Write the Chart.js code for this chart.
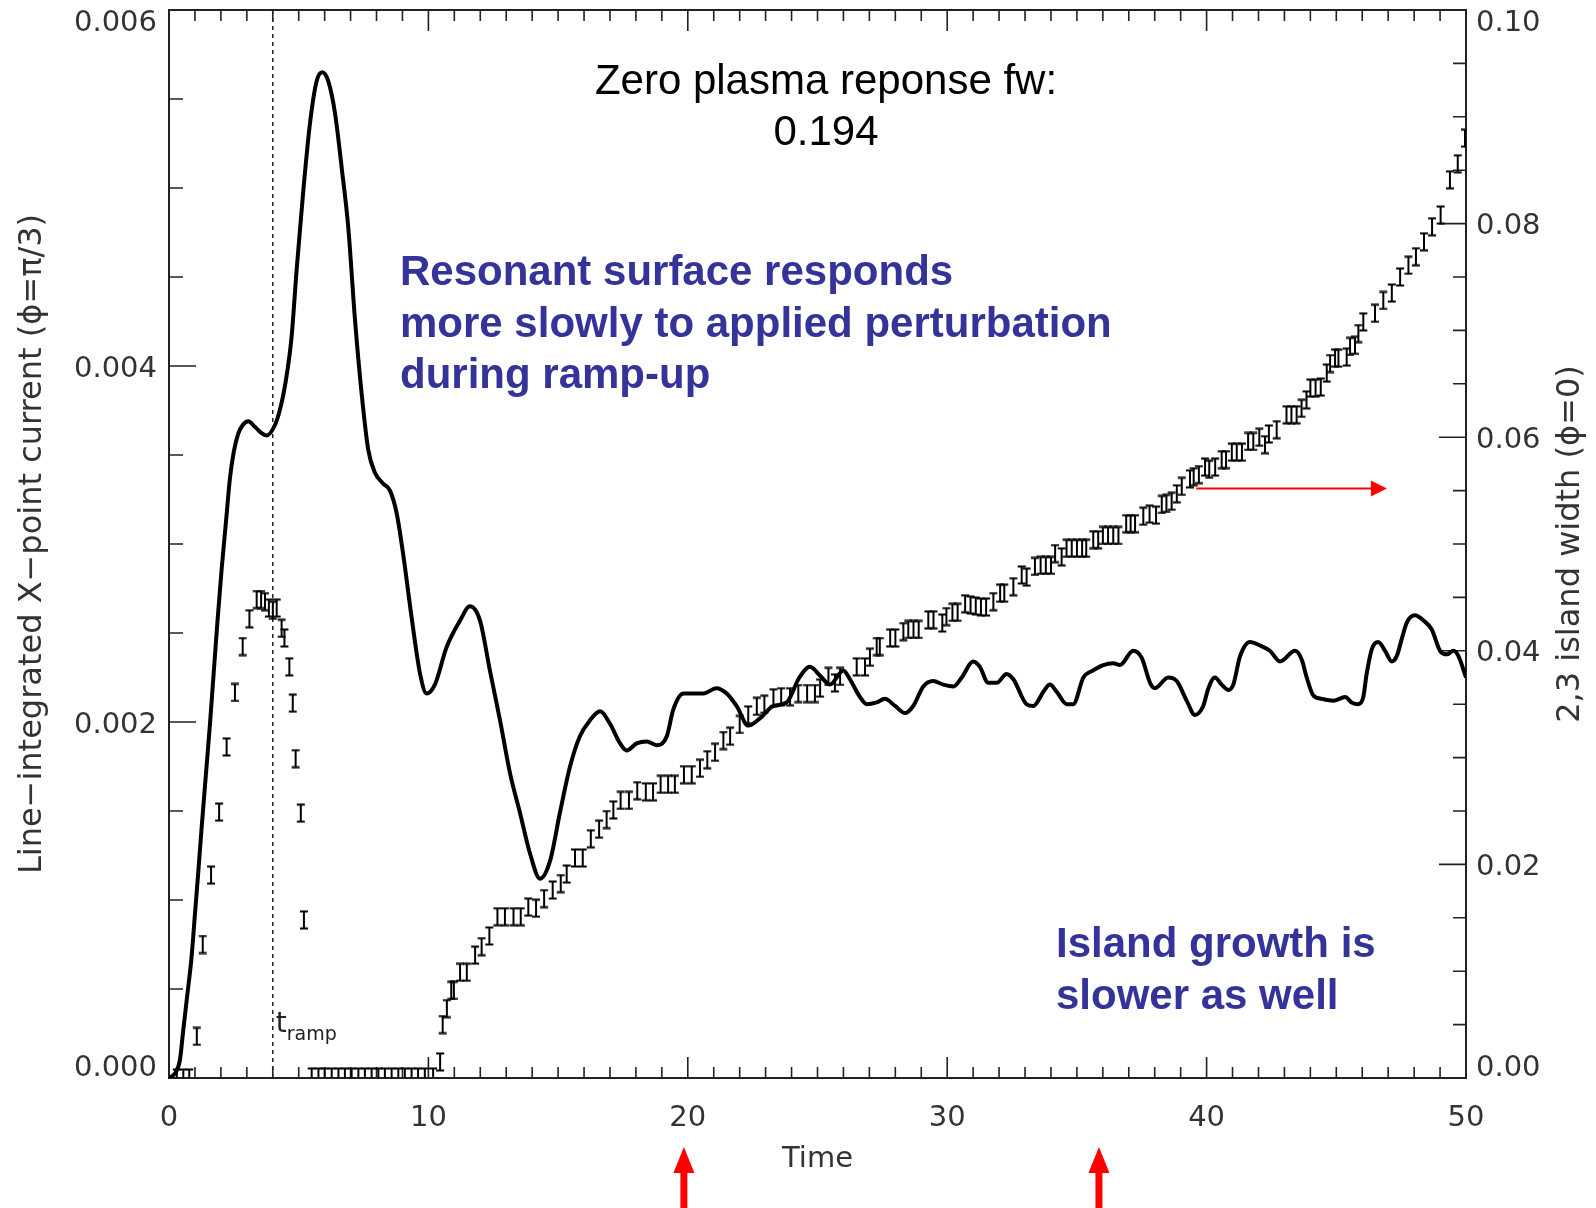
<!doctype html>
<html>
<head>
    <meta charset="UTF-8"/>
    <meta name="viewport" content="width=device-width,initial-scale=1.0"/>
    <title>X-point current and island width</title>
    <style type="text/css">
        body {
            margin: 0;
            padding: 0;
            background-color: #fff;
        }
        .chartBox {
            width: 1596px;
            height: 1208px;
        }
    </style>
</head>
<body>
    <div class="chartBox">
        <canvas id="myChart" width="1596" height="1208"></canvas>
    </div>

    <script src="https://cdn.jsdelivr.net/npm/chart.js"></script>

    <script>
        // Line-integrated X-point current, left axis
        const curveTime = [
            0, 0.25, 0.42, 0.55, 0.7, 0.87, 1.0, 1.13, 1.26, 1.42,
            1.58, 1.72, 1.86, 2.03, 2.2, 2.35, 2.5, 2.67, 2.85, 3.06,
            3.3, 3.51, 3.77, 4.09, 4.25, 4.41, 4.57, 4.73, 4.92, 5.18,
            5.44, 5.69, 5.91, 6.14, 6.40, 6.66, 6.91, 7.17, 7.43, 7.68,
            7.94, 8.25, 8.52, 8.78, 9.03, 9.36, 9.68, 9.93, 10.25, 10.7,
            11.22, 11.6, 11.99, 12.37, 12.76, 13.15, 13.53, 13.92, 14.30, 14.69,
            15.07, 15.46, 15.84, 16.23, 16.62, 17.0, 17.39, 17.64, 18.03, 18.42,
            18.8, 19.19, 19.44, 19.83, 20.21, 20.6, 21.1, 21.5, 21.88, 22.33,
            22.78, 23.3, 23.81, 24.3, 24.71, 25.1, 25.48, 26.0, 26.25, 26.64,
            26.9, 27.28, 27.6, 27.99, 28.37, 28.69, 29.08, 29.46, 29.85, 30.24,
            30.56, 31.0, 31.26, 31.58, 31.91, 32.29, 32.55, 33.06, 33.32, 33.71,
            33.96, 34.22, 34.61, 34.86, 35.25, 35.63, 36.02, 36.4, 36.66, 37.17,
            37.5, 37.82, 38.01, 38.52, 38.85, 39.23, 39.55, 39.87, 40.07, 40.32,
            40.58, 40.84, 41.03, 41.29, 41.67, 42.06, 42.44, 42.83, 43.41, 43.67,
            43.86, 44.11, 44.44, 44.89, 45.34, 45.59, 45.85, 46.04, 46.17, 46.37,
            46.62, 46.88, 47.14, 47.33, 47.53, 47.72, 48.04, 48.36, 48.68, 49.0,
            49.26, 49.52, 49.71, 50.0
        ];
        const curveCurrent = [
            0, 0.00003, 0.00010, 0.00027, 0.00046, 0.00068, 0.00092, 0.00116, 0.00141, 0.00170,
            0.00199, 0.00227, 0.00255, 0.00286, 0.00313, 0.00337, 0.00352, 0.00362, 0.00367, 0.00369,
            0.00366, 0.00363, 0.00361, 0.00367, 0.00374, 0.00384, 0.00398, 0.00417, 0.00454, 0.00499,
            0.00537, 0.00560, 0.00565, 0.00560, 0.00542, 0.00511, 0.00478, 0.00426, 0.00384, 0.00353,
            0.00340, 0.00334, 0.00330, 0.00317, 0.00294, 0.00258, 0.00227, 0.00216, 0.00221, 0.00242,
            0.00257, 0.00265, 0.00257, 0.00229, 0.00201, 0.00171, 0.00149, 0.00126, 0.00112, 0.00122,
            0.00149, 0.00175, 0.00192, 0.00201, 0.00206, 0.00199, 0.00188, 0.00184, 0.00188, 0.00189,
            0.00187, 0.00192, 0.00207, 0.00216, 0.00216, 0.00216, 0.00219, 0.00216, 0.00209, 0.00198,
            0.00202, 0.00209, 0.00211, 0.00225, 0.00231, 0.00226, 0.00221, 0.00229, 0.00224, 0.00214,
            0.00210, 0.00211, 0.00213, 0.00209, 0.00205, 0.00209, 0.00220, 0.00223, 0.00221, 0.00220,
            0.00225, 0.00234, 0.00231, 0.00222, 0.00222, 0.00227, 0.00224, 0.00210, 0.00209, 0.00217,
            0.00221, 0.00217, 0.00210, 0.00210, 0.00225, 0.00229, 0.00232, 0.00233, 0.00232, 0.00240,
            0.00236, 0.00222, 0.00219, 0.00225, 0.00223, 0.00212, 0.00204, 0.00209, 0.00219, 0.00225,
            0.00221, 0.00218, 0.00221, 0.00237, 0.00245, 0.00243, 0.00240, 0.00234, 0.00240, 0.00235,
            0.00225, 0.00215, 0.00213, 0.00212, 0.00214, 0.00211, 0.00210, 0.00214, 0.00227, 0.00241,
            0.00245, 0.00240, 0.00234, 0.00237, 0.00247, 0.00256, 0.00260, 0.00257, 0.00252, 0.00240,
            0.00238, 0.00240, 0.00237, 0.00225
        ];

        // 2,3 island width, right axis (one error-bar glyph per sample)
        const islandTime = [
            0.30, 0.55, 0.78, 1.07, 1.30, 1.62, 1.93, 2.22, 2.54, 2.84,
            3.10, 3.38, 3.55, 3.70, 3.85, 4.00, 4.15, 4.34, 4.45, 4.64,
            4.77, 4.88, 5.08, 5.20, 5.50, 5.76, 6.00, 6.27, 6.53, 6.78,
            7.04, 7.30, 7.55, 7.81, 8.07, 8.32, 8.58, 8.84, 9.09, 9.35,
            9.60, 9.86, 10.18, 10.45, 10.55, 10.71, 10.88, 10.98, 11.22, 11.48,
            11.80, 12.05, 12.35, 12.66, 12.95, 13.28, 13.56, 13.85, 14.15, 14.46,
            14.79, 15.10, 15.33, 15.65, 15.95, 16.26, 16.58, 16.87, 17.13, 17.41,
            17.73, 18.05, 18.38, 18.66, 18.95, 19.24, 19.50, 19.85, 20.15, 20.47,
            20.75, 21.05, 21.37, 21.63, 22.00, 22.33, 22.66, 22.95, 23.30, 23.60,
            23.94, 24.26, 24.60, 24.90, 25.10, 25.42, 25.67, 25.87, 26.51, 26.83,
            27.02, 27.28, 27.40, 27.80, 28.00, 28.31, 28.50, 28.70, 28.90, 29.27,
            29.47, 29.81, 29.97, 30.20, 30.40, 30.69, 30.90, 31.10, 31.30, 31.50,
            31.78, 32.04, 32.20, 32.55, 32.87, 33.06, 33.38, 33.60, 33.80, 34.00,
            34.16, 34.41, 34.60, 34.80, 35.00, 35.20, 35.36, 35.63, 35.82, 36.00,
            36.20, 36.40, 36.60, 36.90, 37.07, 37.24, 37.56, 37.80, 38.05, 38.27,
            38.45, 38.65, 38.85, 39.04, 39.36, 39.50, 39.70, 39.94, 40.10, 40.33,
            40.58, 40.75, 40.97, 41.16, 41.36, 41.60, 41.80, 42.03, 42.25, 42.40,
            42.70, 43.08, 43.27, 43.47, 43.66, 43.85, 44.00, 44.20, 44.40, 44.63,
            44.76, 44.95, 45.08, 45.40, 45.53, 45.72, 45.85, 46.04, 46.49, 46.81,
            47.14, 47.46, 47.78, 48.07, 48.38, 48.69, 49.02, 49.38, 49.68, 49.96
        ];
        const islandWidth = [
            0, 0, 0, 0.0039, 0.0125, 0.0190, 0.0249, 0.0310, 0.0361, 0.0404,
            0.0430, 0.0448, 0.0448, 0.0446, 0.0440, 0.0438, 0.0440, 0.0421, 0.0412, 0.0385,
            0.0351, 0.0299, 0.0248, 0.0148, 0.0001, 0.0001, 0.0001, 0.0001, 0.0001, 0.0001,
            0.0001, 0.0001, 0.0001, 0.0001, 0.0001, 0.0001, 0.0001, 0.0001, 0.0001, 0.0001,
            0.0001, 0.0001, 0.0001, 0.0015, 0.0050, 0.0065, 0.0082, 0.0082, 0.0099, 0.0099,
            0.0115, 0.0123, 0.0133, 0.0151, 0.0151, 0.0151, 0.0151, 0.0160, 0.0159, 0.0168,
            0.0176, 0.0182, 0.0191, 0.0206, 0.0206, 0.0224, 0.0233, 0.0242, 0.0251, 0.0260,
            0.0260, 0.0269, 0.0268, 0.0268, 0.0275, 0.0275, 0.0275, 0.0284, 0.0284, 0.0290,
            0.0298, 0.0305, 0.0316, 0.0320, 0.0331, 0.0340, 0.0348, 0.0350, 0.0356, 0.0357,
            0.0357, 0.0360, 0.0360, 0.0360, 0.0365, 0.0376, 0.0370, 0.0376, 0.0385, 0.0385,
            0.0394, 0.0404, 0.0404, 0.0412, 0.0412, 0.0418, 0.0420, 0.0420, 0.0420, 0.0429,
            0.0429, 0.0426, 0.0432, 0.0436, 0.0436, 0.0444, 0.0443, 0.0442, 0.0441, 0.0441,
            0.0446, 0.0454, 0.0454, 0.0460, 0.0471, 0.0469, 0.0479, 0.0480, 0.0480, 0.0480,
            0.0491, 0.0488, 0.0496, 0.0496, 0.0496, 0.0496, 0.0496, 0.0504, 0.0504, 0.0508,
            0.0508, 0.0508, 0.0508, 0.0519, 0.0519, 0.0519, 0.0526, 0.0528, 0.0527, 0.0537,
            0.0538, 0.0540, 0.0547, 0.0554, 0.0561, 0.0563, 0.0565, 0.0572, 0.0570, 0.0572,
            0.0579, 0.0579, 0.0586, 0.0586, 0.0586, 0.0596, 0.0596, 0.0600, 0.0593, 0.0603,
            0.0607, 0.0621, 0.0621, 0.0621, 0.0627, 0.0635, 0.0646, 0.0646, 0.0647, 0.0660,
            0.0669, 0.0674, 0.0674, 0.0675, 0.0685, 0.0686, 0.0697, 0.0708, 0.0716, 0.0728,
            0.0735, 0.0750, 0.0761, 0.0769, 0.0783, 0.0797, 0.0808, 0.0841, 0.0856, 0.0880
        ];

        // Tick labels
        const xTickValues = [0, 10, 20, 30, 40, 50];
        const leftTickValues = [0, 0.002, 0.004, 0.006];
        const rightTickValues = [0, 0.02, 0.04, 0.06, 0.08, 0.10];

        // Annotation values
        const rampTime = 4;
        const markerTimes = [19.85, 35.85];
        const pointerArrow = { from: 39.6, to: 46.95, width: 0.0552 };

        const headerLines = ['Zero plasma reponse fw:', '0.194'];
        const noteLines = ['Resonant surface responds', 'more slowly to applied perturbation', 'during ramp-up'];
        const growthLines = ['Island growth is', 'slower as well'];
        const leftTitle = 'Line\u2212integrated X\u2212point current (\u03d5=\u03c0/3)';
        const rightTitle = '2,3 island width (\u03d5=0)';

        const axisFont = '"DejaVu Sans", sans-serif';
        const axisColor = '#333';

        // I-shaped error bar glyph used as the point style
        function makeBarGlyph() {
            const c = document.createElement('canvas');
            c.width = 10;
            c.height = 20;
            const g = c.getContext('2d');
            g.strokeStyle = '#000';
            g.lineWidth = 2;
            g.beginPath();
            g.moveTo(5, 1);
            g.lineTo(5, 19);
            g.moveTo(1, 1.5);
            g.lineTo(9, 1.5);
            g.moveTo(1, 18.5);
            g.lineTo(9, 18.5);
            g.stroke();
            return c;
        }

        // Frame, inward ticks, tick labels and the ramp marker
        const frameAndTicks = {
            id: 'frameAndTicks',
            beforeDatasetsDraw(chart) {
                const { ctx, chartArea: a, scales: { x, y, y2 } } = chart;
                ctx.save();
                ctx.strokeStyle = '#222';
                ctx.lineWidth = 1.6;
                ctx.beginPath();
                for (let i = 0; i <= 50; i++) {
                    const px = x.getPixelForValue(i);
                    const len = i % 10 === 0 ? 21 : 11;
                    ctx.moveTo(px, a.bottom);
                    ctx.lineTo(px, a.bottom - len);
                    ctx.moveTo(px, a.top);
                    ctx.lineTo(px, a.top + len);
                }
                for (let i = 0; i <= 12; i++) {
                    const py = y.getPixelForValue(i * 0.0005);
                    ctx.moveTo(a.left, py);
                    ctx.lineTo(a.left + (i % 4 === 0 ? 27 : 14), py);
                }
                for (let i = 0; i <= 20; i++) {
                    const py = y2.getPixelForValue(i * 0.005);
                    ctx.moveTo(a.right, py);
                    ctx.lineTo(a.right - (i % 4 === 0 ? 27 : 13), py);
                }
                ctx.stroke();

                ctx.lineWidth = 2;
                ctx.strokeRect(a.left, a.top, a.width, a.height);

                // dotted line at the end of the ramp
                const xr = x.getPixelForValue(rampTime);
                ctx.lineWidth = 1.5;
                ctx.setLineDash([4, 4]);
                ctx.beginPath();
                ctx.moveTo(xr, a.top);
                ctx.lineTo(xr, a.bottom);
                ctx.stroke();
                ctx.setLineDash([]);

                ctx.fillStyle = '#222';
                ctx.textAlign = 'left';
                ctx.textBaseline = 'alphabetic';
                ctx.font = '28px ' + axisFont;
                ctx.fillText('t', xr + 3, 1032);
                ctx.font = '19px ' + axisFont;
                ctx.fillText('ramp', xr + 14, 1040);

                // tick labels
                ctx.fillStyle = axisColor;
                ctx.font = '29px ' + axisFont;
                ctx.textBaseline = 'middle';
                ctx.textAlign = 'center';
                xTickValues.forEach(v => {
                    ctx.fillText(String(v), x.getPixelForValue(v), a.bottom + 40);
                });
                const clampY = py => Math.min(Math.max(py + 3, a.top + 13), a.bottom - 10);
                ctx.textAlign = 'right';
                leftTickValues.forEach(v => {
                    ctx.fillText(v.toFixed(3), a.left - 12, clampY(y.getPixelForValue(v)));
                });
                ctx.textAlign = 'left';
                rightTickValues.forEach(v => {
                    ctx.fillText(v.toFixed(2), a.right + 10, clampY(y2.getPixelForValue(v)));
                });
                ctx.restore();
            },
            afterDraw(chart) {
                const { ctx, chartArea: a, scales: { x, y2 } } = chart;
                ctx.save();

                // right axis title, reading upwards
                ctx.fillStyle = axisColor;
                ctx.font = '32px ' + axisFont;
                ctx.textAlign = 'center';
                ctx.textBaseline = 'middle';
                ctx.translate(1571, (a.top + a.bottom) / 2);
                ctx.rotate(-Math.PI / 2);
                ctx.fillText(rightTitle, 0, 0);
                ctx.setTransform(1, 0, 0, 1, 0, 0);

                ctx.textBaseline = 'alphabetic';
                ctx.fillStyle = '#000';
                ctx.font = '42px "Liberation Sans", Arial, sans-serif';
                ctx.fillText(headerLines[0], 826, 94);
                ctx.fillText(headerLines[1], 826, 145);

                ctx.fillStyle = '#333399';
                ctx.font = 'bold 42px "Liberation Sans", Arial, sans-serif';
                ctx.textAlign = 'left';
                noteLines.forEach((s, i) => ctx.fillText(s, 400, 285 + i * 51.5));
                growthLines.forEach((s, i) => ctx.fillText(s, 1056, 957 + i * 51.5));

                // red pointer towards the right axis
                ctx.strokeStyle = '#ff0000';
                ctx.fillStyle = '#ff0000';
                const py = y2.getPixelForValue(pointerArrow.width);
                const x0 = x.getPixelForValue(pointerArrow.from);
                const x1 = x.getPixelForValue(pointerArrow.to);
                ctx.lineWidth = 2;
                ctx.beginPath();
                ctx.moveTo(x0, py);
                ctx.lineTo(x1 - 14, py);
                ctx.stroke();
                ctx.beginPath();
                ctx.moveTo(x1, py);
                ctx.lineTo(x1 - 16, py - 8);
                ctx.lineTo(x1 - 16, py + 8);
                ctx.closePath();
                ctx.fill();

                // red markers under the time axis
                markerTimes.forEach(t => {
                    const px = x.getPixelForValue(t);
                    ctx.fillRect(px - 3.5, 1170, 7, 40);
                    ctx.beginPath();
                    ctx.moveTo(px, 1147);
                    ctx.lineTo(px - 10.5, 1173);
                    ctx.lineTo(px + 10.5, 1173);
                    ctx.closePath();
                    ctx.fill();
                });
                ctx.restore();
            }
        };

        const data = {
            datasets: [
                {
                    label: 'X-point current',
                    data: curveTime.map((t, i) => ({ x: t, y: curveCurrent[i] })),
                    yAxisID: 'y',
                    borderColor: '#000',
                    borderWidth: 4,
                    pointRadius: 0,
                    cubicInterpolationMode: 'monotone',
                    fill: false
                },
                {
                    label: 'Island width',
                    data: islandTime.map((t, i) => ({ x: t, y: islandWidth[i] })),
                    yAxisID: 'y2',
                    showLine: false,
                    pointStyle: makeBarGlyph(),
                    pointRadius: 8,
                    clip: 0
                }
            ]
        };

        const config = {
            type: 'line',
            data: data,
            options: {
                responsive: false,
                animation: false,
                devicePixelRatio: 1,
                layout: { padding: { top: 10, left: 0, right: 0, bottom: 0 } },
                plugins: {
                    legend: { display: false },
                    tooltip: { enabled: false }
                },
                scales: {
                    x: {
                        type: 'linear',
                        min: 0,
                        max: 50,
                        afterBuildTicks: s => { s.ticks = xTickValues.map(v => ({ value: v })); },
                        ticks: { display: false },
                        grid: { display: false, drawTicks: false },
                        border: { display: false },
                        title: {
                            display: true,
                            text: 'Time',
                            color: axisColor,
                            font: { family: axisFont, size: 29 },
                            padding: { top: 0, bottom: 31 }
                        },
                        afterFit: s => { s.height = 130; s.paddingLeft = 0; s.paddingRight = 0; }
                    },
                    y: {
                        type: 'linear',
                        position: 'left',
                        min: 0,
                        max: 0.006,
                        afterBuildTicks: s => { s.ticks = leftTickValues.map(v => ({ value: v })); },
                        ticks: { display: false },
                        grid: { display: false, drawTicks: false },
                        border: { display: false },
                        title: {
                            display: true,
                            text: leftTitle,
                            color: axisColor,
                            font: { family: axisFont, size: 32 },
                            padding: { top: 13, bottom: 0 }
                        },
                        afterFit: s => { s.width = 169; s.paddingTop = 0; s.paddingBottom = 0; }
                    },
                    y2: {
                        type: 'linear',
                        position: 'right',
                        min: 0,
                        max: 0.10,
                        afterBuildTicks: s => { s.ticks = rightTickValues.map(v => ({ value: v })); },
                        ticks: { display: false },
                        grid: { display: false, drawTicks: false },
                        border: { display: false },
                        afterFit: s => { s.width = 130; s.paddingTop = 0; s.paddingBottom = 0; }
                    }
                }
            },
            plugins: [frameAndTicks]
        };

        const myChart = new Chart(
            document.getElementById('myChart'),
            config
        );
    </script>
</body>
</html>
